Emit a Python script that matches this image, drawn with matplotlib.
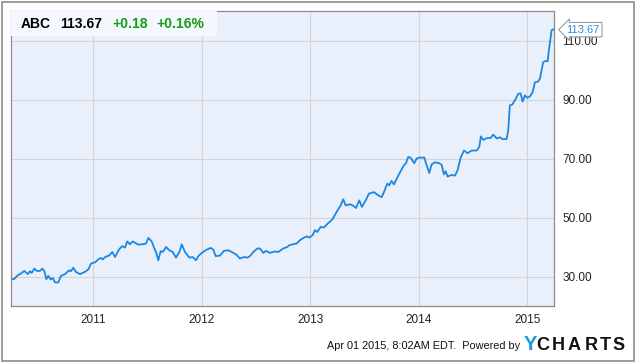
import matplotlib.pyplot as plt
from matplotlib.patches import Rectangle

# ABC weekly-ish closes (decimal year, price)
years = [
    2010.241, 2010.272, 2010.303, 2010.340, 2010.364, 2010.395, 2010.417, 2010.432,
    2010.456, 2010.478, 2010.509, 2010.530, 2010.548, 2010.567, 2010.585, 2010.607,
    2010.626, 2010.647, 2010.677, 2010.702, 2010.739, 2010.776, 2010.794, 2010.816,
    2010.838, 2010.877, 2010.924, 2010.954, 2010.979, 2011.016, 2011.046, 2011.068,
    2011.087, 2011.108, 2011.145, 2011.175, 2011.200, 2011.237, 2011.267, 2011.292,
    2011.313, 2011.338, 2011.363, 2011.415, 2011.470, 2011.486, 2011.507, 2011.538,
    2011.569, 2011.578, 2011.599, 2011.621, 2011.640, 2011.670, 2011.700, 2011.732,
    2011.762, 2011.793, 2011.815, 2011.845, 2011.885, 2011.916, 2011.947, 2011.968,
    2011.999, 2012.045, 2012.082, 2012.106, 2012.128, 2012.168, 2012.205, 2012.244,
    2012.276, 2012.315, 2012.352, 2012.389, 2012.419, 2012.444, 2012.475, 2012.512,
    2012.536, 2012.567, 2012.592, 2012.629, 2012.675, 2012.705, 2012.751, 2012.788,
    2012.806, 2012.838, 2012.875, 2012.905, 2012.942, 2012.972, 2012.991, 2013.022,
    2013.043, 2013.065, 2013.096, 2013.126, 2013.166, 2013.203, 2013.243, 2013.280,
    2013.304, 2013.326, 2013.366, 2013.396, 2013.421, 2013.452, 2013.476, 2013.511,
    2013.541, 2013.587, 2013.627, 2013.658, 2013.679, 2013.710, 2013.728, 2013.750,
    2013.771, 2013.802, 2013.833, 2013.864, 2013.882, 2013.903, 2013.925, 2013.959,
    2013.981, 2014.011, 2014.051, 2014.073, 2014.097, 2014.119, 2014.149, 2014.189,
    2014.211, 2014.232, 2014.248, 2014.266, 2014.303, 2014.334, 2014.358, 2014.386,
    2014.417, 2014.451, 2014.488, 2014.534, 2014.558, 2014.573, 2014.594, 2014.626,
    2014.663, 2014.687, 2014.718, 2014.748, 2014.770, 2014.810, 2014.825, 2014.840,
    2014.862, 2014.887, 2014.917, 2014.939, 2014.958, 2014.979, 2015.000, 2015.025,
    2015.050, 2015.071, 2015.101, 2015.117, 2015.147, 2015.163, 2015.188, 2015.203,
    2015.225, 2015.240, 2015.247,
]
prices = [
    29.0, 29.2, 30.4, 31.2, 31.9, 30.8, 31.8, 31.2,
    32.7, 31.9, 31.9, 32.7, 31.9, 29.1, 30.2, 29.0,
    29.5, 28.0, 28.0, 30.2, 30.8, 32.1, 31.8, 33.0,
    31.6, 30.8, 31.6, 32.4, 34.4, 34.8, 35.8, 36.3,
    35.8, 36.6, 37.1, 38.3, 36.6, 39.2, 40.3, 39.8,
    41.9, 40.9, 41.9, 40.8, 41.0, 41.2, 43.1, 41.9,
    38.9, 38.3, 35.5, 38.6, 38.3, 40.0, 38.9, 38.3,
    36.4, 38.3, 40.9, 38.3, 36.4, 36.6, 35.5, 36.9,
    38.0, 39.1, 39.7, 39.1, 36.9, 37.1, 38.7, 38.9,
    38.3, 37.5, 36.1, 36.6, 36.4, 36.9, 38.3, 39.5,
    39.5, 38.0, 38.7, 38.0, 38.5, 38.3, 39.5, 40.0,
    40.6, 40.9, 41.2, 42.3, 43.2, 43.6, 43.2, 44.0,
    45.7, 45.1, 46.8, 46.6, 48.1, 49.3, 51.9, 54.1,
    56.2, 54.1, 54.5, 54.0, 53.2, 55.8, 53.6, 55.8,
    58.1, 58.6, 57.5, 56.9, 58.6, 61.5, 60.9, 62.4,
    61.2, 63.5, 65.7, 67.7, 68.4, 70.5, 70.3, 68.4,
    70.0, 70.3, 70.3, 67.7, 65.1, 68.0, 68.7, 68.4,
    67.9, 64.6, 65.7, 63.9, 64.4, 64.2, 66.0, 70.3,
    72.7, 71.8, 72.7, 72.7, 73.9, 77.5, 76.3, 76.9,
    77.0, 78.1, 76.8, 77.2, 76.6, 76.6, 79.5, 88.0,
    88.3, 89.7, 91.9, 92.1, 89.3, 91.4, 90.6, 91.0,
    92.5, 95.8, 96.1, 97.0, 102.6, 103.0, 103.0, 107.5,
    113.5, 113.8, 113.67,
]

year_ticks = [2011, 2012, 2013, 2014, 2015]
price_ticks = [30, 50, 70, 90, 110]

ticker = "ABC"
last_price = "113.67"
change = "+0.18"
change_pct = "+0.16%"
footer = "Apr 01 2015, 8:02AM EDT.  Powered by"

plt.rcParams['font.family'] = ['Liberation Sans', 'DejaVu Sans']

W, H = 635, 362
fig = plt.figure(figsize=(W / 100, H / 100), dpi=100)
ax = fig.add_axes([11 / W, (H - 306) / H, 543 / W, 295 / H])

ax.set_facecolor('#eaf0fb')
ax.plot(years, prices, color='#1a88e3', linewidth=1.3, solid_joinstyle='round')

ax.set_xlim(2010.241, 2015.247)
ax.set_ylim(20, 120)
ax.set_xticks(year_ticks)
ax.set_xticklabels([str(y) for y in year_ticks])
ax.set_yticks(price_ticks)
ax.set_yticklabels(['%.2f' % p for p in price_ticks])
ax.yaxis.tick_right()
ax.tick_params(length=0, labelsize=8.5, colors='#222222')
ax.tick_params(axis='x', pad=6)
ax.tick_params(axis='y', pad=6)
ax.grid(True, color='#d4d4d4', linewidth=0.8)
ax.set_axisbelow(True)
for s in ax.spines.values():
    s.set_color('#8c8c8c')
    s.set_linewidth(0.9)

# header box with quote
ax.add_patch(Rectangle((0, 1), 206 / 543, -25 / 295, transform=ax.transAxes,
                       facecolor='#f4f7fd', edgecolor='none', zorder=3))
hy = 1 - 12.5 / 295
ax.text(10 / 543, hy, ticker, transform=ax.transAxes, fontsize=10,
        fontweight='bold', va='center', zorder=4)
ax.text(49.5 / 543, hy, last_price, transform=ax.transAxes, fontsize=10,
        fontweight='bold', va='center', zorder=4)
ax.text(101 / 543, hy, change, transform=ax.transAxes, fontsize=10,
        fontweight='bold', color='#149c14', va='center', zorder=4)
ax.text(145.5 / 543, hy, change_pct, transform=ax.transAxes, fontsize=10,
        fontweight='bold', color='#149c14', va='center', zorder=4)

# last value callout
ax.annotate(last_price, xy=(years[-1], prices[-1]), xytext=(9, 0),
            textcoords='offset points', ha='left', va='center',
            fontsize=8, color='#2a8fe0', annotation_clip=False,
            bbox=dict(boxstyle='larrow,pad=0.2', fc='white', ec='#9a9a9a', lw=0.8))

# footer
fig.text(520 / W, 1 - 349 / H, footer, fontsize=7.8, ha='right', va='baseline',
         color='#111111')
fig.text(530.5 / W, 1 - 350 / H, 'Y', fontsize=14.5, fontweight='bold',
         ha='center', va='baseline', color='#1b98e0')
for letter, cx in zip('CHARTS', [542.5, 558, 574.5, 591, 605.5, 619]):
    fig.text(cx / W, 1 - 350 / H, letter, fontsize=13, fontweight='bold',
             ha='center', va='baseline', color='#111111')

# outer border
fig.patches.append(Rectangle((1.5 / W, 1.5 / H), 632 / W, 359 / H,
                             transform=fig.transFigure, fill=False,
                             edgecolor='#8c8c8c', linewidth=1.2))

fig.savefig('out.png', dpi=100)
